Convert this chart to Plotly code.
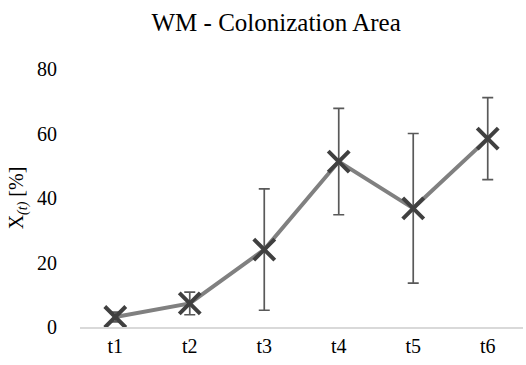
import plotly.graph_objects as go

# Colonization area over time (mean with standard deviation)
timepoints = ["t1", "t2", "t3", "t4", "t5", "t6"]
area_mean = [3.1, 7.3, 24.0, 51.3, 36.8, 58.4]
area_sd = [1.5, 3.5, 18.8, 16.5, 23.2, 12.7]
y_ticks = [0, 20, 40, 60, 80]

fig = go.Figure()

fig.add_trace(go.Scatter(
    x=timepoints,
    y=area_mean,
    mode="lines+markers",
    line=dict(color="#808080", width=4),
    marker=dict(symbol="x-thin", size=21, color="#404040",
                line=dict(color="#404040", width=4)),
    error_y=dict(type="data", array=area_sd, visible=True,
                 color="#595959", thickness=1.7, width=5.5),
    showlegend=False,
))

serif = "Liberation Serif"

fig.update_layout(
    width=526,
    height=365,
    margin=dict(l=80, r=3, t=69, b=38),
    paper_bgcolor="white",
    plot_bgcolor="white",
    title=dict(text="WM - Colonization Area", x=0.525, xanchor="center",
               y=0.94, yanchor="middle",
               font=dict(family=serif, size=25, color="black")),
)

fig.update_xaxes(
    type="category",
    showline=True,
    linecolor="#d9d9d9",
    linewidth=1.5,
    showgrid=False,
    ticks="",
    tickfont=dict(family=serif, size=20, color="black"),
)

# transparent tick marks keep the labels clear of the plot area
fig.update_yaxes(
    range=[0, 80],
    tickvals=y_ticks,
    showline=False,
    showgrid=False,
    zeroline=False,
    ticks="outside",
    ticklen=18,
    tickcolor="rgba(0,0,0,0)",
    tickfont=dict(family=serif, size=20, color="black"),
    title=dict(text="X<sub><i>(t)</i></sub> [%]", standoff=8,
               font=dict(family=serif, size=20, color="black")),
)

fig.write_html("out.html")
